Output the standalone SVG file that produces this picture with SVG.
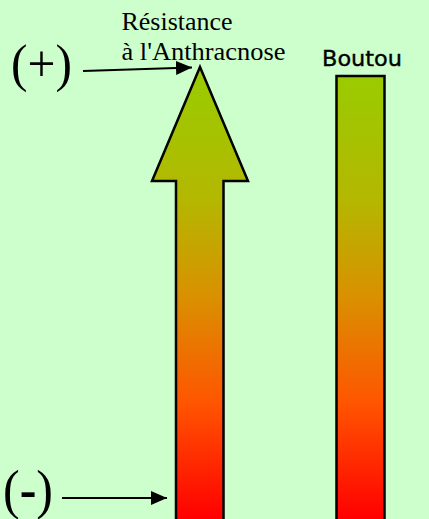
<svg xmlns="http://www.w3.org/2000/svg" width="429" height="519" viewBox="0 0 429 519">
<defs>
<linearGradient id="grad" gradientUnits="userSpaceOnUse" x1="0" y1="72" x2="0" y2="519">
<stop offset="0" stop-color="#99CC00"/>
<stop offset="0.28" stop-color="#B3B800"/>
<stop offset="0.5" stop-color="#D99100"/>
<stop offset="0.74" stop-color="#FF5500"/>
<stop offset="1" stop-color="#FF0000"/>
</linearGradient>
<marker id="ah" markerWidth="16" markerHeight="14" refX="16" refY="7" orient="auto" markerUnits="userSpaceOnUse">
<polygon points="0,0 16,7 0,14" fill="#000"/>
</marker>
<style>
.serif{font-family:"Liberation Serif","Times New Roman",serif;fill:#000}
.shape{fill:url(#grad);stroke:#000;stroke-width:2.5;stroke-linejoin:miter}
.conn{stroke:#000;stroke-width:2;fill:none;marker-end:url(#ah)}
</style>
</defs>
<rect x="0" y="0" width="429" height="519" fill="#CCFFCC"/>
<g id="label-resistance">
<text class="serif" x="121.5" y="30" font-size="25" textLength="111" lengthAdjust="spacingAndGlyphs">Résistance</text>
<text class="serif" x="121.5" y="60" font-size="25" textLength="164" lengthAdjust="spacingAndGlyphs">à l'Anthracnose</text>
</g>
<g id="label-plus">
<text class="serif" x="11" y="81" font-size="52" textLength="61" lengthAdjust="spacingAndGlyphs">(+)</text>
</g>
<g id="label-minus">
<text class="serif" x="3" y="508" font-size="54" textLength="50" lengthAdjust="spacingAndGlyphs">(<tspan font-weight="bold">-</tspan>)</text>
</g>
<g id="arrow-resistance">
<polygon class="shape" points="200,67 248,181 223.5,181 223.5,522 176,522 176,181 152,181"/>
</g>
<g id="bar-boutou">
<rect class="shape" x="336.5" y="76" width="48" height="446"/>
</g>
<g id="label-boutou">
<text x="322" y="66" font-size="22" font-family="'DejaVu Sans','Comic Sans MS',sans-serif" stroke="#000" stroke-width="0.4" textLength="80" lengthAdjust="spacingAndGlyphs">Boutou</text>
</g>
<g id="connectors">
<line class="conn" x1="83" y1="71" x2="192" y2="67.5"/>
<line class="conn" x1="62" y1="498" x2="167" y2="498"/>
</g>
</svg>
